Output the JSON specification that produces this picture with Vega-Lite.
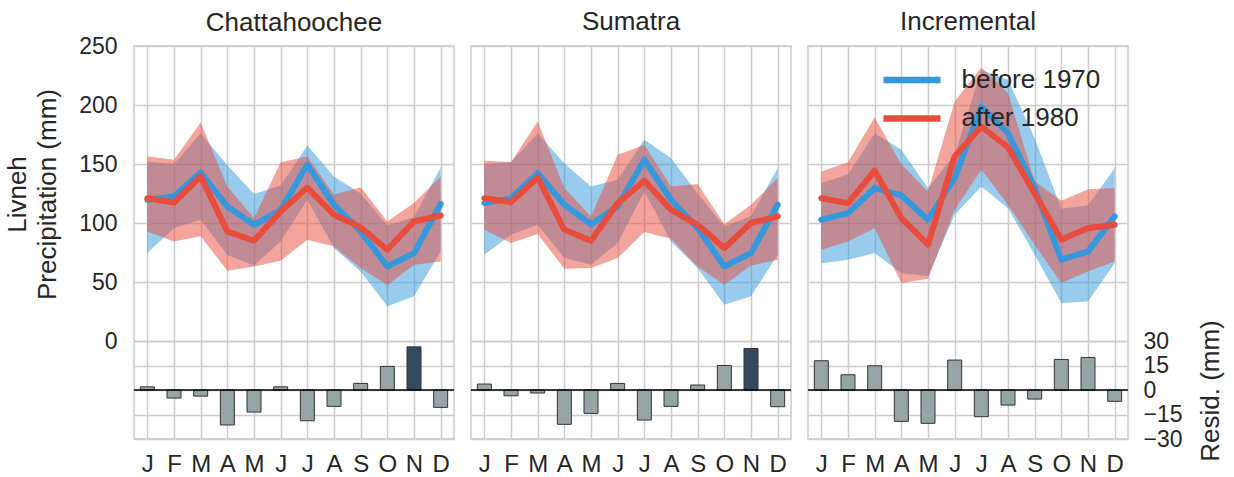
{
  "$schema": "https://vega.github.io/schema/vega-lite/v6.json",
  "background": "white",
  "padding": {"left": 3, "top": 8, "right": 5, "bottom": 0},
  "config": {
    "font": "Liberation Sans",
    "view": {"stroke": "#cccccc", "strokeWidth": 1.5},
    "axis": {"gridColor": "#cccccc", "gridWidth": 1.5, "labelColor": "#262626", "titleColor": "#262626", "labelFont": "Liberation Sans", "titleFont": "Liberation Sans", "domain": false, "ticks": false, "titleFontWeight": "normal", "titleLineHeight": 30},
    "title": {"fontSize": 26, "fontWeight": "normal", "color": "#262626", "font": "Liberation Sans", "offset": 11, "frame": "group", "baseline": "alphabetic"},
    "concat": {"spacing": 13}
  },
  "datasets": {
    "prec": [
      {"panel":"Chattahoochee","period":"before 1970","month":"Jan","mean":119.7,"lo":74.5,"hi":152},
      {"panel":"Chattahoochee","period":"before 1970","month":"Feb","mean":122.5,"lo":95.7,"hi":150},
      {"panel":"Chattahoochee","period":"before 1970","month":"Mar","mean":142.8,"lo":102.8,"hi":176},
      {"panel":"Chattahoochee","period":"before 1970","month":"Apr","mean":114,"lo":73,"hi":149},
      {"panel":"Chattahoochee","period":"before 1970","month":"May","mean":98.5,"lo":64,"hi":124.5},
      {"panel":"Chattahoochee","period":"before 1970","month":"Jun","mean":111,"lo":84.4,"hi":131.8},
      {"panel":"Chattahoochee","period":"before 1970","month":"Jul","mean":149.3,"lo":119.7,"hi":165.7},
      {"panel":"Chattahoochee","period":"before 1970","month":"Aug","mean":115.5,"lo":78.8,"hi":139.5},
      {"panel":"Chattahoochee","period":"before 1970","month":"Sep","mean":92.9,"lo":59,"hi":125},
      {"panel":"Chattahoochee","period":"before 1970","month":"Oct","mean":63.2,"lo":29.4,"hi":98},
      {"panel":"Chattahoochee","period":"before 1970","month":"Nov","mean":74.5,"lo":37.9,"hi":105},
      {"panel":"Chattahoochee","period":"before 1970","month":"Dec","mean":116.3,"lo":76,"hi":147},
      {"panel":"Chattahoochee","period":"after 1980","month":"Jan","mean":121,"lo":92.9,"hi":156.4},
      {"panel":"Chattahoochee","period":"after 1980","month":"Feb","mean":117.4,"lo":84.4,"hi":153.6},
      {"panel":"Chattahoochee","period":"after 1980","month":"Mar","mean":139.5,"lo":88.7,"hi":185.2},
      {"panel":"Chattahoochee","period":"after 1980","month":"Apr","mean":92.9,"lo":59.6,"hi":131},
      {"panel":"Chattahoochee","period":"after 1980","month":"May","mean":85,"lo":63.2,"hi":104},
      {"panel":"Chattahoochee","period":"after 1980","month":"Jun","mean":109.8,"lo":68,"hi":151.6},
      {"panel":"Chattahoochee","period":"after 1980","month":"Jul","mean":130,"lo":85.8,"hi":156.4},
      {"panel":"Chattahoochee","period":"after 1980","month":"Aug","mean":107,"lo":80.2,"hi":124},
      {"panel":"Chattahoochee","period":"after 1980","month":"Sep","mean":96.3,"lo":61.8,"hi":130.4},
      {"panel":"Chattahoochee","period":"after 1980","month":"Oct","mean":77.4,"lo":47.2,"hi":101.4},
      {"panel":"Chattahoochee","period":"after 1980","month":"Nov","mean":101.4,"lo":64.7,"hi":116.9},
      {"panel":"Chattahoochee","period":"after 1980","month":"Dec","mean":106.4,"lo":67.5,"hi":139.5},
      {"panel":"Sumatra","period":"before 1970","month":"Jan","mean":116.9,"lo":73.2,"hi":150},
      {"panel":"Sumatra","period":"before 1970","month":"Feb","mean":121,"lo":90,"hi":151.6},
      {"panel":"Sumatra","period":"before 1970","month":"Mar","mean":142.3,"lo":98.5,"hi":176},
      {"panel":"Sumatra","period":"before 1970","month":"Apr","mean":115.5,"lo":70.3,"hi":150.5},
      {"panel":"Sumatra","period":"before 1970","month":"May","mean":99,"lo":64.7,"hi":131},
      {"panel":"Sumatra","period":"before 1970","month":"Jun","mean":114,"lo":83,"hi":136.6},
      {"panel":"Sumatra","period":"before 1970","month":"Jul","mean":153.6,"lo":126.8,"hi":170.5},
      {"panel":"Sumatra","period":"before 1970","month":"Aug","mean":119.7,"lo":84.4,"hi":155},
      {"panel":"Sumatra","period":"before 1970","month":"Sep","mean":95.7,"lo":61.8,"hi":125},
      {"panel":"Sumatra","period":"before 1970","month":"Oct","mean":63.2,"lo":30.8,"hi":97},
      {"panel":"Sumatra","period":"before 1970","month":"Nov","mean":74.5,"lo":37.9,"hi":106},
      {"panel":"Sumatra","period":"before 1970","month":"Dec","mean":115.5,"lo":73.2,"hi":146.5},
      {"panel":"Sumatra","period":"after 1980","month":"Jan","mean":121,"lo":94.3,"hi":152.7},
      {"panel":"Sumatra","period":"after 1980","month":"Feb","mean":117.7,"lo":83,"hi":151.6},
      {"panel":"Sumatra","period":"after 1980","month":"Mar","mean":138.6,"lo":90.6,"hi":186},
      {"panel":"Sumatra","period":"after 1980","month":"Apr","mean":94.3,"lo":61.3,"hi":129.6},
      {"panel":"Sumatra","period":"after 1980","month":"May","mean":85,"lo":61.8,"hi":105.6},
      {"panel":"Sumatra","period":"after 1980","month":"Jun","mean":116.9,"lo":70.3,"hi":157.8},
      {"panel":"Sumatra","period":"after 1980","month":"Jul","mean":135.8,"lo":92.3,"hi":166.3},
      {"panel":"Sumatra","period":"after 1980","month":"Aug","mean":111.3,"lo":86.7,"hi":131},
      {"panel":"Sumatra","period":"after 1980","month":"Sep","mean":98.5,"lo":63.2,"hi":133},
      {"panel":"Sumatra","period":"after 1980","month":"Oct","mean":78.8,"lo":47.8,"hi":99},
      {"panel":"Sumatra","period":"after 1980","month":"Nov","mean":100,"lo":64,"hi":115.5},
      {"panel":"Sumatra","period":"after 1980","month":"Dec","mean":105.6,"lo":68.9,"hi":138},
      {"panel":"Incremental","period":"before 1970","month":"Jan","mean":102.8,"lo":66,"hi":133.8},
      {"panel":"Incremental","period":"before 1970","month":"Feb","mean":108.4,"lo":68.9,"hi":141.4},
      {"panel":"Incremental","period":"before 1970","month":"Mar","mean":129.6,"lo":74.5,"hi":176.1},
      {"panel":"Incremental","period":"before 1970","month":"Apr","mean":123.4,"lo":57.6,"hi":162},
      {"panel":"Incremental","period":"before 1970","month":"May","mean":102.8,"lo":54.8,"hi":129.6},
      {"panel":"Incremental","period":"before 1970","month":"Jun","mean":138,"lo":107,"hi":157.8},
      {"panel":"Incremental","period":"before 1970","month":"Jul","mean":198.7,"lo":131,"hi":229.8},
      {"panel":"Incremental","period":"before 1970","month":"Aug","mean":176.1,"lo":112.6,"hi":221.3},
      {"panel":"Incremental","period":"before 1970","month":"Sep","mean":129.6,"lo":73.2,"hi":171.9},
      {"panel":"Incremental","period":"before 1970","month":"Oct","mean":68.9,"lo":32.2,"hi":112},
      {"panel":"Incremental","period":"before 1970","month":"Nov","mean":76,"lo":33.6,"hi":115},
      {"panel":"Incremental","period":"before 1970","month":"Dec","mean":105.6,"lo":66,"hi":146.5},
      {"panel":"Incremental","period":"after 1980","month":"Jan","mean":121,"lo":77.4,"hi":143.7},
      {"panel":"Incremental","period":"after 1980","month":"Feb","mean":116.9,"lo":84.4,"hi":151.6},
      {"panel":"Incremental","period":"after 1980","month":"Mar","mean":144.3,"lo":95.7,"hi":189.4},
      {"panel":"Incremental","period":"after 1980","month":"Apr","mean":104.2,"lo":49.1,"hi":149.9},
      {"panel":"Incremental","period":"after 1980","month":"May","mean":81.6,"lo":52.8,"hi":126.8},
      {"panel":"Incremental","period":"after 1980","month":"Jun","mean":156.4,"lo":111.3,"hi":203},
      {"panel":"Incremental","period":"after 1980","month":"Jul","mean":181.8,"lo":145.1,"hi":231.7},
      {"panel":"Incremental","period":"after 1980","month":"Aug","mean":164,"lo":115.5,"hi":210},
      {"panel":"Incremental","period":"after 1980","month":"Sep","mean":125.3,"lo":81.6,"hi":135.2},
      {"panel":"Incremental","period":"after 1980","month":"Oct","mean":85.8,"lo":49.1,"hi":118.9},
      {"panel":"Incremental","period":"after 1980","month":"Nov","mean":95.7,"lo":59,"hi":128.7},
      {"panel":"Incremental","period":"after 1980","month":"Dec","mean":98.5,"lo":67.5,"hi":129.6}
    ],
    "resid": [
      {"panel":"Chattahoochee","month":"Jan","resid":2.0,"hl":false},
      {"panel":"Chattahoochee","month":"Feb","resid":-4.9,"hl":false},
      {"panel":"Chattahoochee","month":"Mar","resid":-3.7,"hl":false},
      {"panel":"Chattahoochee","month":"Apr","resid":-21.4,"hl":false},
      {"panel":"Chattahoochee","month":"May","resid":-13.5,"hl":false},
      {"panel":"Chattahoochee","month":"Jun","resid":2.0,"hl":false},
      {"panel":"Chattahoochee","month":"Jul","resid":-18.8,"hl":false},
      {"panel":"Chattahoochee","month":"Aug","resid":-10,"hl":false},
      {"panel":"Chattahoochee","month":"Sep","resid":4.1,"hl":false},
      {"panel":"Chattahoochee","month":"Oct","resid":14.5,"hl":false},
      {"panel":"Chattahoochee","month":"Nov","resid":26.5,"hl":true},
      {"panel":"Chattahoochee","month":"Dec","resid":-10.6,"hl":false},
      {"panel":"Sumatra","month":"Jan","resid":3.7,"hl":false},
      {"panel":"Sumatra","month":"Feb","resid":-3.5,"hl":false},
      {"panel":"Sumatra","month":"Mar","resid":-1.8,"hl":false},
      {"panel":"Sumatra","month":"Apr","resid":-21,"hl":false},
      {"panel":"Sumatra","month":"May","resid":-14.3,"hl":false},
      {"panel":"Sumatra","month":"Jun","resid":4.1,"hl":false},
      {"panel":"Sumatra","month":"Jul","resid":-18.4,"hl":false},
      {"panel":"Sumatra","month":"Aug","resid":-10,"hl":false},
      {"panel":"Sumatra","month":"Sep","resid":3.1,"hl":false},
      {"panel":"Sumatra","month":"Oct","resid":15.1,"hl":false},
      {"panel":"Sumatra","month":"Nov","resid":25.5,"hl":true},
      {"panel":"Sumatra","month":"Dec","resid":-10.2,"hl":false},
      {"panel":"Incremental","month":"Jan","resid":18,"hl":false},
      {"panel":"Incremental","month":"Feb","resid":9.4,"hl":false},
      {"panel":"Incremental","month":"Mar","resid":14.9,"hl":false},
      {"panel":"Incremental","month":"Apr","resid":-19.2,"hl":false},
      {"panel":"Incremental","month":"May","resid":-20.4,"hl":false},
      {"panel":"Incremental","month":"Jun","resid":18.4,"hl":false},
      {"panel":"Incremental","month":"Jul","resid":-16.3,"hl":false},
      {"panel":"Incremental","month":"Aug","resid":-9.2,"hl":false},
      {"panel":"Incremental","month":"Sep","resid":-5.5,"hl":false},
      {"panel":"Incremental","month":"Oct","resid":18.8,"hl":false},
      {"panel":"Incremental","month":"Nov","resid":20,"hl":false},
      {"panel":"Incremental","month":"Dec","resid":-6.9,"hl":false}
    ],
    "zero": [{"r": 0}]
  },
  "resolve": {"scale": {"color": "independent", "fill": "independent"}, "legend": {"color": "independent", "fill": "independent"}},
  "hconcat": [
    {
      "width": 320, "height": 393,
      "title": {"text": "Chattahoochee", "offset": -1},
      "layer": [
        {
          "data": {"name": "prec"},
          "transform": [{"filter": "datum.panel === 'Chattahoochee'"}],
          "encoding": {
            "x": {"field": "month", "type": "ordinal", "scale": {"type": "point", "padding": 0.5, "domain": ["Jan","Feb","Mar","Apr","May","Jun","Jul","Aug","Sep","Oct","Nov","Dec"]}, "axis": {"title": null, "labelExpr": "substring(datum.label,0,1)", "labelFontSize": 24, "labelPadding": 13.5, "labelAngle": 0, "grid": true}}
          },
          "layer": [
            {"transform": [{"filter": "datum.period === 'before 1970'"}], "mark": {"type": "area", "fillOpacity": 0.5, "strokeWidth": 0},
             "encoding": {"y": {"field": "lo", "type": "quantitative", "scale": {"domain": [-83, 250], "nice": false, "zero": false}, "axis": {"values": [0,50,100,150,200,250], "title": ["Livneh", "Precipitation (mm)"], "titleFontSize": 26, "labelFontSize": 23, "labelPadding": 17, "titlePadding": 18, "titleY": 148, "titleAngle": 270, "titleAlign": "center", "grid": true}},
                          "y2": {"field": "hi"},
                          "fill": {"field": "period", "type": "nominal", "scale": {"domain": ["after 1980", "before 1970"], "range": ["#e74c3c", "#3498db"]}, "legend": null}}},
            {"transform": [{"filter": "datum.period === 'after 1980'"}], "mark": {"type": "area", "fillOpacity": 0.5, "strokeWidth": 0},
             "encoding": {"y": {"field": "lo", "type": "quantitative"}, "y2": {"field": "hi"},
                          "fill": {"field": "period", "type": "nominal", "legend": null}}},
            {"transform": [{"filter": "datum.period === 'before 1970'"}], "mark": {"type": "line", "strokeWidth": 6, "strokeCap": "round", "strokeJoin": "round"},
             "encoding": {"y": {"field": "mean", "type": "quantitative"},
                          "color": {"field": "period", "type": "nominal", "scale": {"domain": ["before 1970", "after 1980"], "range": ["#3498db", "#e74c3c"]}, "legend": null}}},
            {"transform": [{"filter": "datum.period === 'after 1980'"}], "mark": {"type": "line", "strokeWidth": 6, "strokeCap": "round", "strokeJoin": "round"},
             "encoding": {"y": {"field": "mean", "type": "quantitative"},
                          "color": {"field": "period", "type": "nominal", "legend": null}}}
          ]
        },
        {
          "layer": [
            {"data": {"name": "resid"}, "transform": [{"filter": "datum.panel === 'Chattahoochee'"}],
             "mark": {"type": "bar", "width": 14, "stroke": "#333333", "strokeWidth": 1},
             "encoding": {
               "x": {"field": "month", "type": "ordinal"},
               "y": {"field": "resid", "type": "quantitative", "scale": {"domain": [-30, 211], "nice": false, "zero": false}, "axis": {"values": [-30,-15,0,15,30], "labels": false, "title": null, "grid": true, "minExtent": 0}},
               "fill": {"condition": {"test": "datum.hl", "value": "#34495e"}, "value": "#95a5a6"}}},
            {"data": {"name": "zero"}, "mark": {"type": "rule", "color": "black", "strokeWidth": 1.5},
             "encoding": {"y": {"field": "r", "type": "quantitative"}}}
          ]
        }
      ],
      "resolve": {"scale": {"y": "independent"}}
    },
    {
      "width": 320, "height": 393,
      "title": {"text": "Sumatra"},
      "layer": [
        {
          "data": {"name": "prec"},
          "transform": [{"filter": "datum.panel === 'Sumatra'"}],
          "encoding": {
            "x": {"field": "month", "type": "ordinal", "scale": {"type": "point", "padding": 0.5, "domain": ["Jan","Feb","Mar","Apr","May","Jun","Jul","Aug","Sep","Oct","Nov","Dec"]}, "axis": {"title": null, "labelExpr": "substring(datum.label,0,1)", "labelFontSize": 24, "labelPadding": 13.5, "labelAngle": 0, "grid": true}}
          },
          "layer": [
            {"transform": [{"filter": "datum.period === 'before 1970'"}], "mark": {"type": "area", "fillOpacity": 0.5, "strokeWidth": 0},
             "encoding": {"y": {"field": "lo", "type": "quantitative", "scale": {"domain": [-83, 250], "nice": false, "zero": false}, "axis": {"values": [0,50,100,150,200,250], "labels": false, "title": null, "grid": true, "minExtent": 0}},
                          "y2": {"field": "hi"},
                          "fill": {"field": "period", "type": "nominal", "scale": {"domain": ["after 1980", "before 1970"], "range": ["#e74c3c", "#3498db"]}, "legend": null}}},
            {"transform": [{"filter": "datum.period === 'after 1980'"}], "mark": {"type": "area", "fillOpacity": 0.5, "strokeWidth": 0},
             "encoding": {"y": {"field": "lo", "type": "quantitative"}, "y2": {"field": "hi"},
                          "fill": {"field": "period", "type": "nominal", "legend": null}}},
            {"transform": [{"filter": "datum.period === 'before 1970'"}], "mark": {"type": "line", "strokeWidth": 6, "strokeCap": "round", "strokeJoin": "round"},
             "encoding": {"y": {"field": "mean", "type": "quantitative"},
                          "color": {"field": "period", "type": "nominal", "scale": {"domain": ["before 1970", "after 1980"], "range": ["#3498db", "#e74c3c"]}, "legend": null}}},
            {"transform": [{"filter": "datum.period === 'after 1980'"}], "mark": {"type": "line", "strokeWidth": 6, "strokeCap": "round", "strokeJoin": "round"},
             "encoding": {"y": {"field": "mean", "type": "quantitative"},
                          "color": {"field": "period", "type": "nominal", "legend": null}}}
          ]
        },
        {
          "layer": [
            {"data": {"name": "resid"}, "transform": [{"filter": "datum.panel === 'Sumatra'"}],
             "mark": {"type": "bar", "width": 14, "stroke": "#333333", "strokeWidth": 1},
             "encoding": {
               "x": {"field": "month", "type": "ordinal"},
               "y": {"field": "resid", "type": "quantitative", "scale": {"domain": [-30, 211], "nice": false, "zero": false}, "axis": {"values": [-30,-15,0,15,30], "labels": false, "title": null, "grid": true, "minExtent": 0}},
               "fill": {"condition": {"test": "datum.hl", "value": "#34495e"}, "value": "#95a5a6"}}},
            {"data": {"name": "zero"}, "mark": {"type": "rule", "color": "black", "strokeWidth": 1.5},
             "encoding": {"y": {"field": "r", "type": "quantitative"}}}
          ]
        }
      ],
      "resolve": {"scale": {"y": "independent"}}
    },
    {
      "width": 320, "height": 393,
      "title": {"text": "Incremental"},
      "layer": [
        {
          "data": {"name": "prec"},
          "transform": [{"filter": "datum.panel === 'Incremental'"}],
          "encoding": {
            "x": {"field": "month", "type": "ordinal", "scale": {"type": "point", "padding": 0.5, "domain": ["Jan","Feb","Mar","Apr","May","Jun","Jul","Aug","Sep","Oct","Nov","Dec"]}, "axis": {"title": null, "labelExpr": "substring(datum.label,0,1)", "labelFontSize": 24, "labelPadding": 13.5, "labelAngle": 0, "grid": true}}
          },
          "layer": [
            {"transform": [{"filter": "datum.period === 'before 1970'"}], "mark": {"type": "area", "fillOpacity": 0.5, "strokeWidth": 0},
             "encoding": {"y": {"field": "lo", "type": "quantitative", "scale": {"domain": [-83, 250], "nice": false, "zero": false}, "axis": {"values": [0,50,100,150,200,250], "labels": false, "title": null, "grid": true, "minExtent": 0}},
                          "y2": {"field": "hi"},
                          "fill": {"field": "period", "type": "nominal", "scale": {"domain": ["after 1980", "before 1970"], "range": ["#e74c3c", "#3498db"]}, "legend": null}}},
            {"transform": [{"filter": "datum.period === 'after 1980'"}], "mark": {"type": "area", "fillOpacity": 0.5, "strokeWidth": 0},
             "encoding": {"y": {"field": "lo", "type": "quantitative"}, "y2": {"field": "hi"},
                          "fill": {"field": "period", "type": "nominal", "legend": null}}},
            {"transform": [{"filter": "datum.period === 'before 1970'"}], "mark": {"type": "line", "strokeWidth": 6, "strokeCap": "round", "strokeJoin": "round"},
             "encoding": {"y": {"field": "mean", "type": "quantitative"},
                          "color": {"field": "period", "type": "nominal", "scale": {"domain": ["before 1970", "after 1980"], "range": ["#3498db", "#e74c3c"]},
                                    "legend": {"orient": "none", "legendX": 72, "legendY": 21, "title": null, "symbolType": "stroke", "symbolSize": 3249, "symbolStrokeWidth": 6.5, "clipHeight": 26, "labelFontSize": 26, "labelOffset": 17.5, "rowPadding": 12.4, "labelColor": "#262626", "labelFont": "Liberation Sans"}}}},
            {"transform": [{"filter": "datum.period === 'after 1980'"}], "mark": {"type": "line", "strokeWidth": 6, "strokeCap": "round", "strokeJoin": "round"},
             "encoding": {"y": {"field": "mean", "type": "quantitative"},
                          "color": {"field": "period", "type": "nominal",
                                    "legend": {"orient": "none", "legendX": 72, "legendY": 21, "title": null, "symbolType": "stroke", "symbolSize": 3249, "symbolStrokeWidth": 6.5, "clipHeight": 26, "labelFontSize": 26, "labelOffset": 17.5, "rowPadding": 12.4, "labelColor": "#262626", "labelFont": "Liberation Sans"}}}}
          ]
        },
        {
          "layer": [
            {"data": {"name": "resid"}, "transform": [{"filter": "datum.panel === 'Incremental'"}],
             "mark": {"type": "bar", "width": 14, "stroke": "#333333", "strokeWidth": 1},
             "encoding": {
               "x": {"field": "month", "type": "ordinal"},
               "y": {"field": "resid", "type": "quantitative", "scale": {"domain": [-30, 211], "nice": false, "zero": false}, "axis": {"values": [-30,-15,0,15,30], "title": "Resid. (mm)", "titleFontSize": 26, "labelFontSize": 23, "labelPadding": 15, "titleX": 82, "titleY": 344.5, "titleAngle": 270, "titleAlign": "center", "titleBaseline": "middle", "grid": true}},
               "fill": {"condition": {"test": "datum.hl", "value": "#34495e"}, "value": "#95a5a6"}}},
            {"data": {"name": "zero"}, "mark": {"type": "rule", "color": "black", "strokeWidth": 1.5},
             "encoding": {"y": {"field": "r", "type": "quantitative"}}}
          ]
        }
      ],
      "resolve": {"scale": {"y": "independent"}}
    }
  ]
}
